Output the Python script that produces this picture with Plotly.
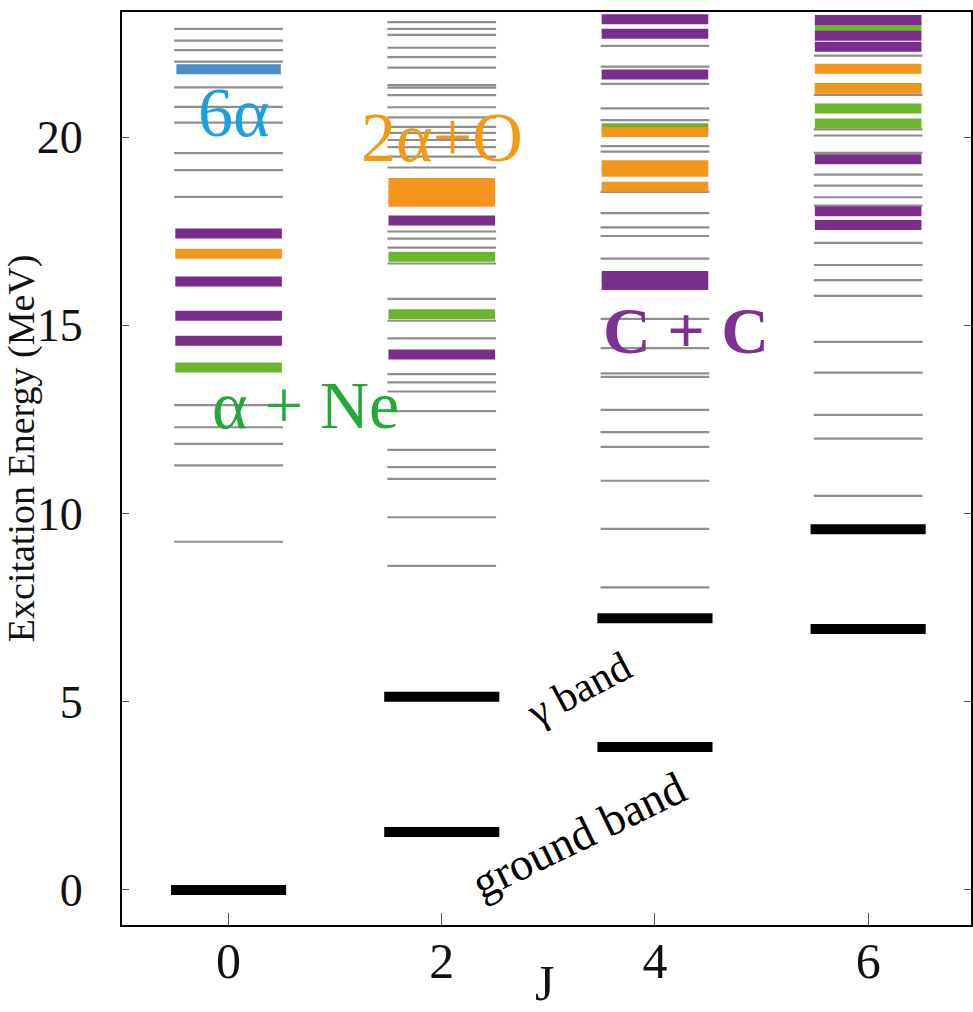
import plotly.graph_objects as go

# Spin values of the level columns
spins = [0, 2, 4, 6]

# Excitation energies (MeV) per spin, grouped by cluster character
grey_levels = {
    0: [22.87, 22.56, 22.31, 22.00, 21.32, 20.80, 20.38, 19.57, 19.12, 18.41,
        12.88, 12.29, 11.85, 11.28, 9.25],
    2: [23.05, 22.87, 22.71, 22.37, 22.12, 21.84, 21.38, 21.31, 21.11, 20.79,
        20.52, 20.27, 20.11, 19.92, 19.73, 19.48, 19.19, 17.49, 17.30, 17.06,
        16.64, 15.70, 15.12, 14.65, 13.70, 13.48, 13.24, 12.72, 11.69, 11.23,
        10.92, 9.90, 8.61],
    4: [22.42, 21.87, 21.41, 20.76, 20.45, 19.76, 19.61, 18.54, 17.98, 17.60,
        17.37, 16.77, 15.17, 14.39, 13.72, 13.63, 12.75, 12.16, 11.77, 10.87,
        9.59, 8.04],
    6: [22.16, 21.12, 20.20, 20.04, 19.58, 19.00, 18.71, 18.40, 18.18, 17.19,
        16.60, 16.20, 15.78, 14.56, 13.74, 12.62, 11.99, 10.47],
}
alpha_ne_levels = {0: [13.88], 2: [16.82, 15.29], 4: [20.23], 6: [22.95, 21.30, 20.76, 20.36]}
two_alpha_o_levels = {0: [16.90], 2: [18.78, 18.60, 18.43, 18.28], 4: [20.13, 19.25, 19.08, 18.68], 6: [21.81, 21.28]}
c_c_levels = {0: [17.44, 16.16, 15.25, 14.59], 2: [17.78, 14.22], 4: [23.13, 22.74, 21.66, 16.31, 16.07],
              6: [23.11, 22.69, 22.40, 19.41, 18.03, 17.66]}
six_alpha_levels = {0: [21.80]}
band_levels = {0: [0.00], 2: [5.13, 1.54], 4: [7.22, 3.80], 6: [9.58, 6.93]}

y_ticks = [0, 5, 10, 15, 20]

SERIF = "Liberation Serif, Times New Roman, serif"


def segments(levels, half):
    xs, ys = [], []
    for j, energies in levels.items():
        for e in energies:
            xs += [j - half, j + half, None]
            ys += [e, e, None]
    return xs, ys


fig = go.Figure()

layers = [
    (grey_levels, "#8e8e8e", 2.2, 0.51),
    (alpha_ne_levels, "#6cb52f", 10, 0.50),
    (two_alpha_o_levels, "#f2961e", 10, 0.50),
    (c_c_levels, "#7b2d8c", 10, 0.50),
    (six_alpha_levels, "#4a8fcc", 10, 0.49),
    (band_levels, "#000000", 10, 0.54),
]
for levels, color, width, half in layers:
    xs, ys = segments(levels, half)
    fig.add_trace(go.Scatter(x=xs, y=ys, mode="lines",
                             line=dict(color=color, width=width),
                             hoverinfo="skip", showlegend=False))

labels = [
    ("6α", 0.05, 20.64, "#1a9fe0", 70, 0),
    ("2α+O", 2.0, 20.0, "#f39a14", 70, 0),
    ("α + Ne", 0.72, 12.88, "#25a83a", 68, 0),
    ("<b>C + C</b>", 4.29, 14.86, "#7e3193", 66, 0),
    ("γ band", 3.29, 5.33, "#000000", 42, -28),
    ("ground band", 3.28, 1.45, "#000000", 46, -26),
]
for text, x, y, color, size, angle in labels:
    fig.add_annotation(x=x, y=y, xref="x", yref="y", text=text, showarrow=False,
                       textangle=angle, font=dict(family=SERIF, size=size, color=color),
                       xanchor="center", yanchor="middle")

# Axis titles
fig.add_annotation(x=-0.1175, y=0.5225, xref="paper", yref="paper",
                   text="Excitation Energy (MeV)", showarrow=False, textangle=-90,
                   font=dict(family=SERIF, size=38, color="#111"),
                   xanchor="center", yanchor="middle")
fig.add_annotation(x=2.96, y=-0.064, xref="x", yref="paper", text="J", showarrow=False,
                   font=dict(family=SERIF, size=50, color="#111"),
                   xanchor="center", yanchor="middle")

fig.update_layout(
    width=973, height=1012,
    margin=dict(l=122, r=0, t=12, b=87),
    paper_bgcolor="white", plot_bgcolor="white",
    font=dict(family=SERIF, color="#111"),
)
fig.update_xaxes(range=[-1.0, 6.965], tickvals=spins, ticks="inside", ticklen=12,
                 tickwidth=1, tickcolor="#555", showgrid=False, zeroline=False,
                 showline=True, linecolor="black", linewidth=2, mirror=True,
                 tickfont=dict(family=SERIF, size=50), ticklabelstandoff=-9)
fig.update_yaxes(range=[-0.93, 23.32], tickvals=y_ticks, ticks="inside", ticklen=7,
                 tickwidth=1, tickcolor="#555", showgrid=False, zeroline=False,
                 showline=True, linecolor="black", linewidth=2, mirror="ticks",
                 tickfont=dict(family=SERIF, size=46), ticklabelstandoff=28)

fig.write_html("out.html")
